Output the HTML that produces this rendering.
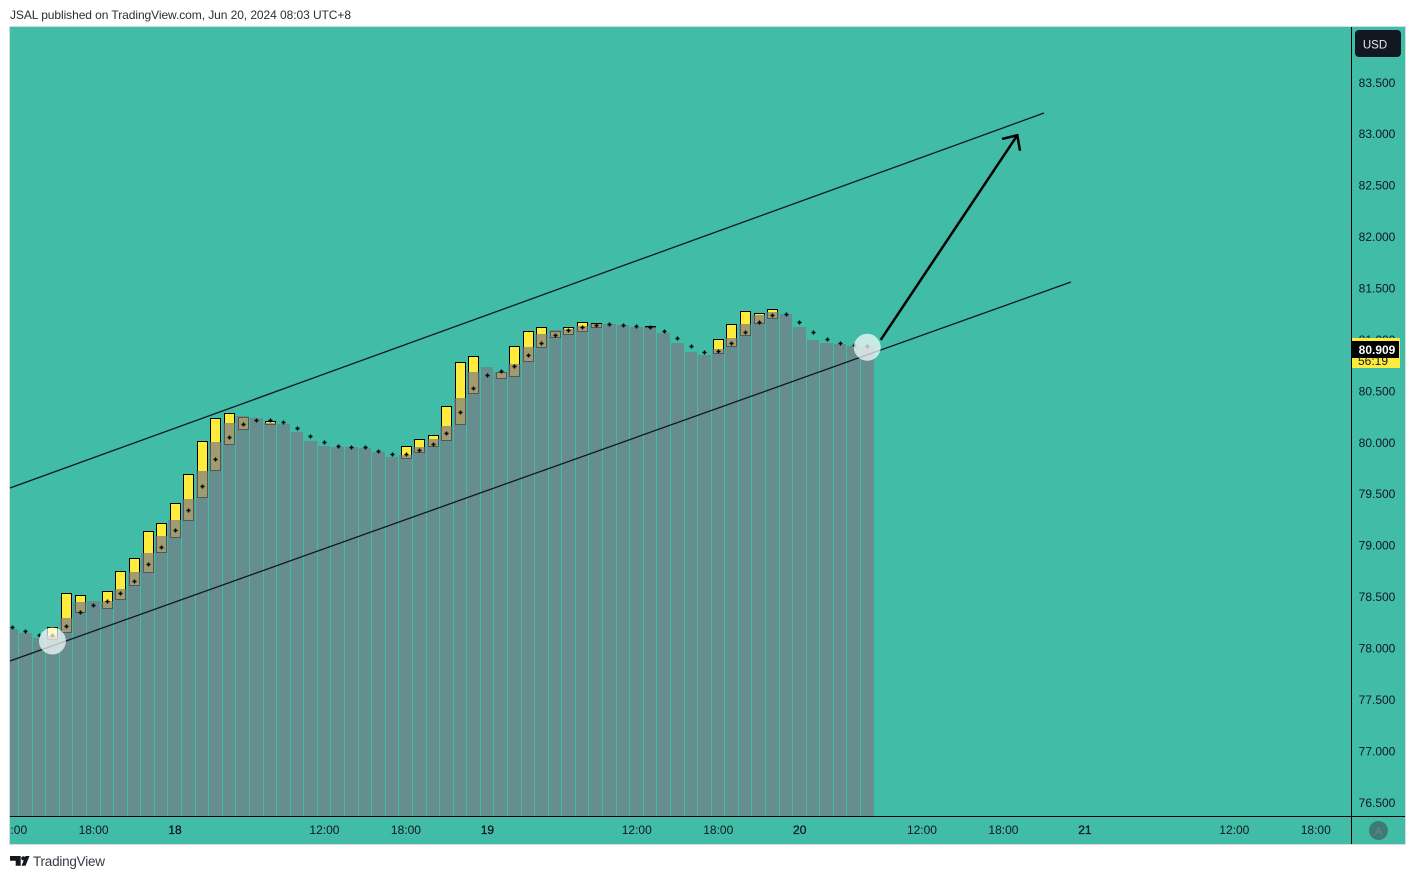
<!DOCTYPE html>
<html lang="en">
<head>
<meta charset="utf-8">
<title>JSAL chart</title>
<style>
html,body{margin:0;padding:0;background:#fff;width:1415px;height:879px;overflow:hidden}
svg{display:block}
text{font-family:"Liberation Sans",sans-serif}
.tick{font-size:12px;fill:#131722}
</style>
</head>
<body>
<svg id="chart" xmlns="http://www.w3.org/2000/svg" width="1415" height="879" viewBox="0 0 1415 879">
  <defs><clipPath id="pane-clip"><rect x="10" y="27" width="1341" height="789"/></clipPath>
  <clipPath id="time-clip"><rect x="10" y="817" width="1341" height="27"/></clipPath></defs>
  <text x="10" y="19" font-size="12" fill="#2a2e39" textLength="341" lengthAdjust="spacing">JSAL published on TradingView.com, Jun 20, 2024 08:03 UTC+8</text>
  <rect x="9.5" y="26.5" width="1396" height="818" fill="#41bca6" stroke="#d5dbdf"/>
  <g id="pane" clip-path="url(#pane-clip)"></g>
  <g id="y-axis"></g>
  <g id="x-axis" clip-path="url(#time-clip)"></g>
  <line x1="1351.5" y1="27" x2="1351.5" y2="844" stroke="#000"/>
  <line x1="10" y1="816.5" x2="1405" y2="816.5" stroke="#000"/>
  <g>
    <rect x="1355" y="30" width="46" height="27" rx="4" fill="#131722"/>
    <text x="1375" y="48.5" font-size="11.5" fill="#e8e9ec" text-anchor="middle">USD</text>
  </g>
  <g>
    <circle cx="1378.5" cy="830.5" r="9.5" fill="#3d7c74"/>
    <text x="1378.5" y="834.5" font-size="11" fill="#72808a" text-anchor="middle">A</text>
  </g>
  <g>
    <path d="M10 856h10.7v9.7h-5v-5h-5.7z" fill="#131722"/>
    <circle cx="23.3" cy="858.3" r="2.1" fill="#131722"/>
    <path d="M25.5 856h4l-4 9.7h-4z" fill="#131722"/>
    <text x="33" y="866" font-size="13.5" fill="#363a45" textLength="72" lengthAdjust="spacing">TradingView</text>
  </g>
</svg>
<script>
// ---- Data (prices in USD, one entry per hourly bar) ----
const closePrices = [78.203,78.164,78.126,78.126,78.219,78.349,78.417,78.456,78.534,78.651,78.816,78.981,79.146,79.341,79.574,79.837,80.051,80.177,80.216,80.216,80.196,80.138,80.060,80.002,79.963,79.953,79.953,79.914,79.885,79.885,79.924,79.983,80.089,80.294,80.527,80.653,80.692,80.741,80.848,80.964,81.042,81.091,81.120,81.139,81.149,81.139,81.130,81.120,81.081,81.013,80.935,80.877,80.887,80.964,81.071,81.169,81.237,81.246,81.169,81.071,81.003,80.964,80.945,80.935];
const columnPrices = [78.187,78.148,78.099,78.119,78.291,78.446,78.456,78.459,78.573,78.741,78.926,79.091,79.247,79.451,79.723,80.008,80.190,80.258,80.238,80.190,80.180,80.102,80.015,79.966,79.956,79.956,79.947,79.908,79.859,79.878,79.956,80.034,80.160,80.433,80.685,80.734,80.685,80.763,80.928,81.055,81.094,81.103,81.133,81.149,81.152,81.142,81.123,81.123,81.065,80.967,80.880,80.851,80.906,81.016,81.152,81.240,81.269,81.249,81.123,80.997,80.967,80.958,80.938,80.938];
const candleIndex = [3,4,5,7,8,9,10,11,12,13,14,15,16,17,19,29,30,31,32,33,34,36,37,38,39,40,41,42,43,47,52,53,54,55,56];
const candleTop = [78.209,78.540,78.514,78.553,78.748,78.874,79.137,79.214,79.409,79.691,80.012,80.235,80.284,80.245,80.206,79.963,80.031,80.070,80.352,80.780,80.838,80.682,80.935,81.081,81.120,81.081,81.120,81.169,81.159,81.133,81.003,81.149,81.276,81.256,81.295];
const candleBottom = [78.093,78.155,78.349,78.394,78.476,78.612,78.738,78.933,79.078,79.244,79.467,79.736,79.988,80.134,80.183,79.852,79.911,79.969,80.021,80.183,80.484,80.630,80.649,80.795,80.931,81.029,81.058,81.087,81.126,81.123,80.873,80.935,81.042,81.159,81.207];
const priceTicks = [83.5,83,82.5,82,81.5,81,80.5,80,79.5,79,78.5,78,77.5,77,76.5];
const timeTickIndex = [0,6,12,23,29,35,46,52,58,67,73,79,90,96];
const timeTickLabels = ['12:00','18:00','18','12:00','18:00','19','12:00','18:00','20','12:00','18:00','21','12:00','18:00'];
const upperLineIndex = [-0.125,76.02];
const upperLinePrice = [79.558,83.203];
const lowerLineIndex = [-0.125,78.0];
const lowerLinePrice = [77.876,81.560];
const arrowIndex = [63.99,74.05];
const arrowPrice = [80.997,82.987];
const markerIndex = [3,63];
const markerPrice = [78.070,80.926];
const lastPrice = 80.909;
const countdownText = '56:19';

// ---- Axis functions ----
function xScale(i){ return 11.7 + 13.58 * i; }
function yScale(p){ return 82.5 + (83.5 - p) * 102.857; }
const paneBottom = 816;
const NS = 'http://www.w3.org/2000/svg';
function make(tag, parent, attrs){
  const el = document.createElementNS(NS, tag);
  for (const k in attrs) el.setAttribute(k, attrs[k]);
  parent.appendChild(el);
  return el;
}
const pane = document.getElementById('pane');
const yAxis = document.getElementById('y-axis');
const xAxis = document.getElementById('x-axis');

// candles beneath the translucent columns
candleIndex.forEach(function(idx, n){
  const cx = Math.round(xScale(idx));
  const top = Math.round(yScale(candleTop[n]));
  const bottom = Math.round(yScale(candleBottom[n]));
  const el = make('rect', pane, {x: cx - 5 + 0.5, y: top + 0.5, width: 10, height: Math.max(bottom - top, 1), fill: '#ffeb3b', stroke: '#000', 'stroke-width': 1, 'shape-rendering': 'crispEdges'});
  
  
});

// translucent columns
function gapX(i){ return Math.round(18.1 + 13.58 * i); }
columnPrices.forEach(function(p, i){
  const left = i === 0 ? 10 : gapX(i - 1) + 1;
  const right = gapX(i);
  const top = Math.round(yScale(p));
  const el = make('rect', pane, {x: left, y: top, width: right - left, height: paneBottom - top, fill: 'rgba(120,123,134,0.7)', 'shape-rendering': 'crispEdges'});
  
  
});

// close-price cross points
closePrices.forEach(function(p, i){
  const cx = Math.round(xScale(i));
  const cy = Math.round(yScale(p));
  const el = make('path', pane, {d: 'M' + (cx - 1.5) + ' ' + (cy + 0.5) + 'h4M' + (cx + 0.5) + ' ' + (cy - 1.5) + 'v4', stroke: '#000', 'stroke-width': 1.4, fill: 'none'});
  
  
});

// channel lines
const upperLine = make('line', pane, {x1: xScale(upperLineIndex[0]), y1: yScale(upperLinePrice[0]), x2: xScale(upperLineIndex[1]), y2: yScale(upperLinePrice[1]), stroke: '#131722', 'stroke-width': 1.3});


const lowerLine = make('line', pane, {x1: xScale(lowerLineIndex[0]), y1: yScale(lowerLinePrice[0]), x2: xScale(lowerLineIndex[1]), y2: yScale(lowerLinePrice[1]), stroke: '#131722', 'stroke-width': 1.3});



// forecast arrow
const ax1 = xScale(arrowIndex[0]), ay1 = yScale(arrowPrice[0]);
const ax2 = xScale(arrowIndex[1]), ay2 = yScale(arrowPrice[1]);
const arrow = make('path', pane, {d: 'M' + ax1 + ' ' + ay1 + 'L' + ax2 + ' ' + ay2 + 'M' + (ax2 - 15.3) + ' ' + (ay2 + 3.7) + 'L' + ax2 + ' ' + ay2 + 'L' + (ax2 + 2.7) + ' ' + (ay2 + 15.4), stroke: '#000', 'stroke-width': 2.5, fill: 'none'});



// highlight circles
markerIndex.forEach(function(idx, n){
  const el = make('circle', pane, {cx: xScale(idx), cy: yScale(markerPrice[n]), r: 13.5, fill: 'rgba(255,255,255,0.7)'});
  
  
});

// price ticks
priceTicks.forEach(function(p){
  const el = make('text', yAxis, {x: 1377, y: yScale(p) + 4.3, 'text-anchor': 'middle', 'class': 'tick'});
  el.textContent = p.toFixed(3);
  
  
});

// last price tag
const tagY = yScale(lastPrice);
const tagYellow = make('rect', yAxis, {x: 1351, y: tagY - 11, width: 49, height: 30, rx: 1, fill: '#ffeb3b'});


const tagBlack = make('rect', yAxis, {x: 1351, y: tagY - 8, width: 48, height: 17, fill: '#000'});


const tagText = make('text', yAxis, {x: 1377, y: tagY + 5, 'text-anchor': 'middle', 'font-size': 12, 'font-weight': 'bold', fill: '#fff'});
tagText.textContent = lastPrice.toFixed(3);


const countText = make('text', yAxis, {x: 1373, y: tagY + 16, 'text-anchor': 'middle', 'class': 'tick'});
countText.textContent = countdownText;



// time ticks
timeTickIndex.forEach(function(idx, n){
  const el = make('text', xAxis, {x: xScale(idx) + 0.4, y: 834, 'text-anchor': 'middle', 'class': 'tick'});
  el.textContent = timeTickLabels[n];
  if (timeTickLabels[n].length < 3) {
    el.setAttribute('stroke', '#131722');
    el.setAttribute('stroke-width', '0.3');
  }
  
  
});
</script>
</body>
</html>
